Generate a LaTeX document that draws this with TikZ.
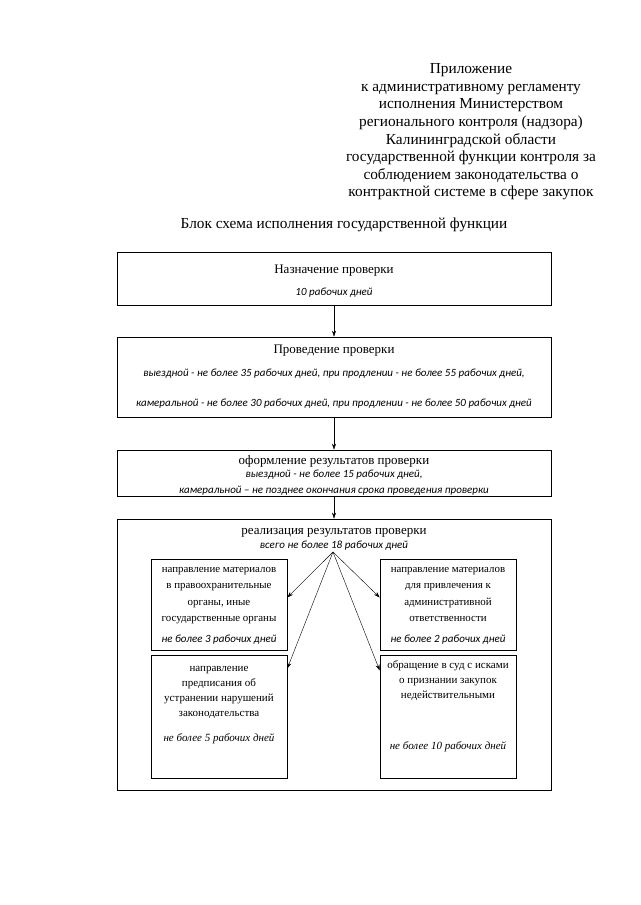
\documentclass[tikz,border=0pt]{standalone}
\usepackage{fontspec}
\setmainfont{Liberation Serif}
\newfontfamily\calib{Carlito}
\usetikzlibrary{positioning,arrows.meta}
\begin{document}
\begin{tikzpicture}[x=1pt, y=-1pt,
    box/.style={draw, line width=0.6pt, inner sep=0pt, align=center, font=\fontsize{13}{16}\selectfont},
    inbox/.style={draw, line width=0.6pt, minimum width=136pt, inner sep=0pt, align=center},
    txt/.style={align=center, inner sep=0pt, font=\fontsize{10.9}{16.5}\selectfont},
    ->, >={Stealth[length=6pt, width=4pt]}]
  \useasboundingbox (0,0) rectangle (640,905);
    % Header
  \node[align=center, font=\fontsize{15.3}{17.6}\selectfont] (hdr) at (471,132)
    {Приложение\\к административному регламенту\\исполнения Министерством\\регионального контроля (надзора)\\Калининградской области\\государственной функции контроля за\\соблюдением законодательства о\\контрактной системе в сфере закупок};
  \node[font=\fontsize{15.3}{17.6}\selectfont] (title) at (344,225) {Блок схема исполнения государственной функции};
    % Main boxes
  \node[box, minimum width=434pt, minimum height=53pt] (assign) at (334,278.5) {};
  \node[align=center, inner sep=0pt, font=\fontsize{13}{16}\selectfont] (assigntxt) at (334,281)
    {Назначение проверки\\[6pt]{\calib\itshape\fontsize{11}{12}\selectfont 10 рабочих дней}};
  \node[box, minimum width=434pt, minimum height=80pt] (conduct) at (334,377)
    {Проведение проверки\\[7pt]{\calib\itshape\fontsize{11}{12}\selectfont выездной - не более 35 рабочих дней, при продлении - не более 55 рабочих дней,}\\[14pt]
     {\calib\itshape\fontsize{11}{12}\selectfont камеральной - не более 30 рабочих дней, при продлении - не более 50 рабочих дней}};
  \node[box, minimum width=434pt, minimum height=46pt] (results) at (334,473) {};
  \node[align=center, inner sep=0pt, font=\fontsize{13}{16}\selectfont] (resultstxt) at (334,475)
    {оформление результатов проверки\\[-3pt]{\calib\itshape\fontsize{11}{12}\selectfont выездной - не более 15 рабочих дней,}\\[0pt]
     {\calib\itshape\fontsize{11}{12}\selectfont камеральной – не позднее окончания срока проведения проверки}};
  \node[box, minimum width=434pt, minimum height=271pt] (impl) at (334,654.5) {};
  \node[align=center, inner sep=0pt, font=\fontsize{13}{16}\selectfont] (impltxt) at (334,539)
    {реализация результатов проверки\\[-2pt]{\calib\itshape\fontsize{11}{12}\selectfont всего не более 18 рабочих дней}};
  \draw (assign) -- (conduct);
  \draw (conduct) -- (results);
  \draw (results) -- (impl);
    % Inner boxes
  \node[inbox, minimum height=91pt] (lu) at (219,604.5) {};
  \node[inbox, minimum height=91pt] (ru) at (448,604.5) {};
  \node[inbox, minimum height=123pt] (ll) at (219,716.5) {};
  \node[inbox, minimum height=123pt] (rl) at (448,716.5) {};
  \node[txt, below=8pt of lu.north] (lutxt) {направление материалов\\в правоохранительные\\органы, иные\\государственные органы\\[4pt]{\calib\itshape\fontsize{11}{12}\selectfont не более 3 рабочих дней}};
  \node[txt, below=8pt of ru.north] (rutxt) {направление материалов\\для привлечения к\\административной\\ответственности\\[4pt]{\calib\itshape\fontsize{11}{12}\selectfont не более 2 рабочих дней}};
  \node[txt, font=\fontsize{11}{15}\selectfont, below=11pt of ll.north] (lltxt) {направление\\предписания об\\устранении нарушений\\законодательства\\[10pt]\textit{не более 5 рабочих дней}};
  \node[txt, font=\fontsize{11}{15}\selectfont, below=6pt of rl.north] (rltxt) {обращение в суд с исками\\о признании закупок\\недействительными\\[36pt]\textit{не более 10 рабочих дней}};
  \coordinate (fork) at (333,552);
  \draw (fork) -- ([yshift=7pt]lu.east);
  \draw (fork) -- ([yshift=7pt]ru.west);
  \draw (fork) -- ([yshift=48pt]ll.east);
  \draw (fork) -- ([yshift=46pt]rl.west);
\end{tikzpicture}
\end{document}
